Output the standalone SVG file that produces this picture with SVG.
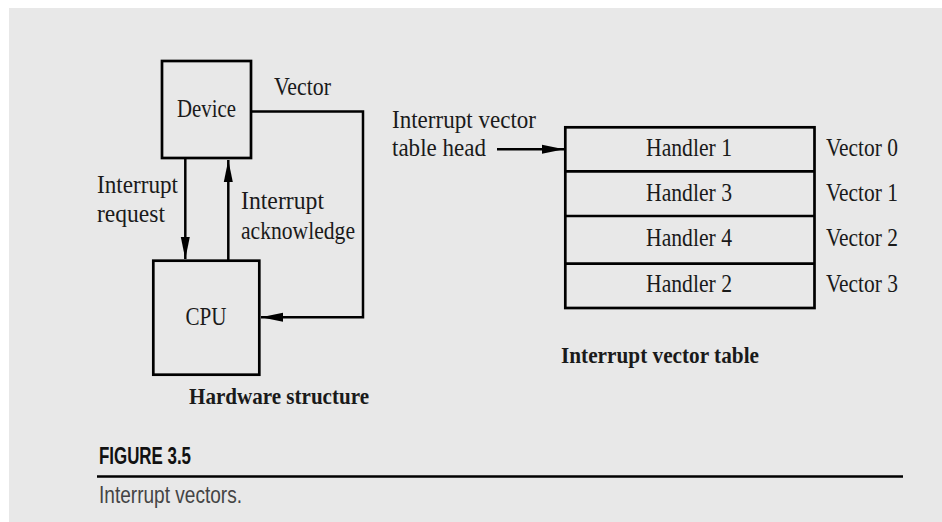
<svg xmlns="http://www.w3.org/2000/svg" width="942" height="522" viewBox="0 0 942 522">
  <defs>
    <marker id="ah" markerUnits="userSpaceOnUse" markerWidth="24" markerHeight="12" refX="22" refY="5" orient="auto">
      <path d="M0,0.5 L22,5 L0,9.5 z" fill="#000"/>
    </marker>
    <style>
      .box { fill: none; stroke: #000; stroke-width: 2.7; }
      .ln { fill: none; stroke: #000; stroke-width: 2.5; }
      .t { font-family: "Liberation Serif", "Times New Roman", serif; font-size: 25px; fill: #1a1a1a; }
      .m { text-anchor: middle; }
      .b { font-weight: bold; font-size: 23px; }
      .cap { font-family: "Liberation Sans", Arial, sans-serif; font-size: 24px; }
    </style>
  </defs>
  <rect x="0" y="0" width="942" height="522" fill="#ffffff"/>
  <rect x="9" y="8" width="933" height="514" fill="#e8e8e8"/>

  <g id="device">
    <rect class="box" x="162" y="61" width="89" height="97"/>
    <text class="t m" x="206.5" y="117" textLength="59" lengthAdjust="spacingAndGlyphs">Device</text>
  </g>
  <g id="cpu">
    <rect class="box" x="153.3" y="260.7" width="106" height="114"/>
    <text class="t m" x="206" y="325" textLength="41" lengthAdjust="spacingAndGlyphs">CPU</text>
  </g>
  <g id="hw-label">
    <text class="t b" x="189" y="404" textLength="180" lengthAdjust="spacingAndGlyphs">Hardware structure</text>
  </g>

  <g id="vector-table">
    <rect class="box" x="565.3" y="127.3" width="249.2" height="180.7"/>
    <line class="box" x1="565.3" y1="171.3" x2="814.5" y2="171.3"/>
    <line class="box" x1="565.3" y1="216" x2="814.5" y2="216"/>
    <line class="box" x1="565.3" y1="263.7" x2="814.5" y2="263.7"/>
  </g>
  <g id="handler1"><text class="t m" x="689" y="156" textLength="86" lengthAdjust="spacingAndGlyphs">Handler 1</text></g>
  <g id="handler3"><text class="t m" x="689" y="201" textLength="86" lengthAdjust="spacingAndGlyphs">Handler 3</text></g>
  <g id="handler4"><text class="t m" x="689" y="246" textLength="86" lengthAdjust="spacingAndGlyphs">Handler 4</text></g>
  <g id="handler2"><text class="t m" x="689" y="292" textLength="86" lengthAdjust="spacingAndGlyphs">Handler 2</text></g>
  <g id="vector-labels">
    <text class="t" x="826" y="156" textLength="72" lengthAdjust="spacingAndGlyphs">Vector 0</text>
    <text class="t" x="826" y="201" textLength="72" lengthAdjust="spacingAndGlyphs">Vector 1</text>
    <text class="t" x="826" y="246" textLength="72" lengthAdjust="spacingAndGlyphs">Vector 2</text>
    <text class="t" x="826" y="292" textLength="72" lengthAdjust="spacingAndGlyphs">Vector 3</text>
  </g>
  <g id="table-label">
    <text class="t b" x="561" y="363" textLength="198" lengthAdjust="spacingAndGlyphs">Interrupt vector table</text>
  </g>

  <g id="connectors">
    <line class="ln" x1="185.3" y1="158" x2="185.3" y2="259" marker-end="url(#ah)"/>
    <line class="ln" x1="228.3" y1="260.7" x2="228.3" y2="160" marker-end="url(#ah)"/>
    <polyline class="ln" points="251,111.5 363,111.5 363,317.3 261,317.3" marker-end="url(#ah)"/>
    <line class="ln" x1="497" y1="149.3" x2="564" y2="149.3" marker-end="url(#ah)"/>
  </g>

  <g id="connector-labels">
    <text class="t" x="274" y="95" textLength="57" lengthAdjust="spacingAndGlyphs">Vector</text>
    <text class="t" x="97" y="193" textLength="81" lengthAdjust="spacingAndGlyphs">Interrupt</text>
    <text class="t" x="97" y="222" textLength="68" lengthAdjust="spacingAndGlyphs">request</text>
    <text class="t" x="241" y="209" textLength="83" lengthAdjust="spacingAndGlyphs">Interrupt</text>
    <text class="t" x="241" y="239" textLength="114" lengthAdjust="spacingAndGlyphs">acknowledge</text>
    <text class="t" x="392" y="128" textLength="144" lengthAdjust="spacingAndGlyphs">Interrupt vector</text>
    <text class="t" x="392" y="156" textLength="94" lengthAdjust="spacingAndGlyphs">table head</text>
  </g>

  <g id="caption">
    <text class="cap" x="99" y="464" font-weight="bold" fill="#111" textLength="92" lengthAdjust="spacingAndGlyphs">FIGURE 3.5</text>
    <line x1="97" y1="476.5" x2="903" y2="476.5" stroke="#000" stroke-width="2.7"/>
    <text class="cap" x="99" y="503" fill="#444" textLength="143" lengthAdjust="spacingAndGlyphs">Interrupt vectors.</text>
  </g>
</svg>
